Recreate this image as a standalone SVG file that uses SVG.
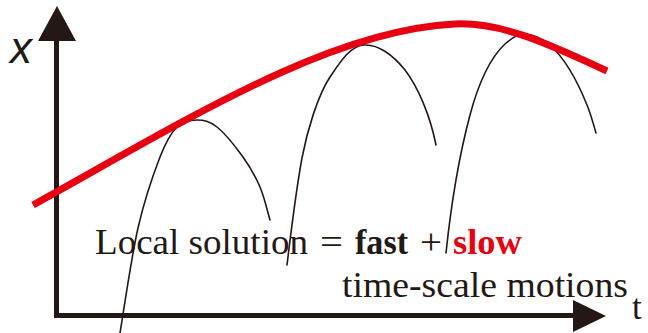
<svg xmlns="http://www.w3.org/2000/svg" width="648" height="333" viewBox="0 0 648 333">
<style>
.axis{stroke:#231815;stroke-width:5;fill:none}
.head{fill:#231815}
.arch{stroke:#231815;stroke-width:1.6;fill:none;stroke-linecap:round}
.slowc{stroke:#e60012;stroke-width:7;fill:none}
.lbl{font-family:"Liberation Serif",serif;font-size:35px;fill:#231815}
</style>
<rect width="648" height="333" fill="#ffffff"/>
<g id="axes">
<line class="axis" x1="56.5" y1="318" x2="56.5" y2="36"/>
<polygon class="head" points="57,6 38,41 76,41"/>
<line class="axis" x1="54" y1="315.5" x2="576" y2="315.5"/>
<polygon class="head" points="606,316 573,300 573,332"/>
<text x="10" y="63" font-family="Liberation Sans,Arial,sans-serif" font-style="italic" font-size="44" fill="#231815">x</text>
<text class="lbl" x="632" y="319">t</text>
</g>
<g id="labels">
<text class="lbl" x="95" y="254" textLength="213" lengthAdjust="spacingAndGlyphs">Local solution</text>
<text class="lbl" x="320" y="254" textLength="23" lengthAdjust="spacingAndGlyphs">=</text>
<text class="lbl" x="355" y="254" font-weight="bold" textLength="53" lengthAdjust="spacingAndGlyphs">fast</text>
<text class="lbl" x="420" y="254" textLength="22" lengthAdjust="spacingAndGlyphs">+</text>
<text class="lbl" x="453" y="254" font-weight="bold" style="fill:#e60012" textLength="69" lengthAdjust="spacingAndGlyphs">slow</text>
<text class="lbl" x="342" y="297" textLength="286" lengthAdjust="spacingAndGlyphs">time-scale motions</text>
</g>
<g id="connectors">
<path id="arch1" class="arch" d="M120,333 C123,315.5 131.3,257.3 138,228 C144.7,198.7 153.5,173.8 160,157 C166.5,140.2 170.8,133.2 177,127 C183.2,120.8 190.3,120 197,120 C203.7,120 209.3,120.8 217,127 C224.7,133.2 235.8,147 243,157 C250.2,167 255.5,176.5 260,187 C264.5,197.5 268.3,214.5 270,220"/>
<path id="arch2" class="arch" d="M287,265 C290,240 297,185 302,158 C307,131 318,95 330,77 C340,62 350,46 364,45 C378,44 393,55 405,70 C418,87 430,115 436,145"/>
<path id="arch3" class="arch" d="M446,253 C450,215 458,160 470,115 C478,85 490,58 505,44 C513,37 518,34 523,34 C531.8,33.5 542.2,38.7 550,45 C562,56 575,75 587,105 C591.3,115.2 594.5,128.3 596,133"/>
<path id="slow-curve" class="slowc" d="M33,205 C190,118 330,30 455,24 C500,22 545,42 607,71"/>
</g>
</svg>
